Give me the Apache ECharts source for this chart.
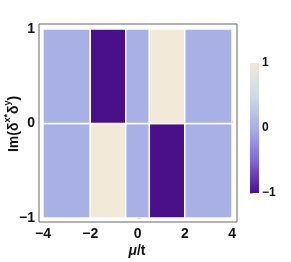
<!DOCTYPE html>
<html>
<head>
<meta charset="utf-8">
<script src="https://cdn.jsdelivr.net/npm/echarts@6/dist/echarts.min.js"></script>
<style>html,body{margin:0;padding:0;background:#fff;}#c{width:291px;height:262px;}</style>
</head>
<body>
<div id="c"></div>
<script>
// Data
var xEdges = [-4, -2, -0.5, 0.5, 2, 4];
var yEdges = [-1, 0, 1];
var rowBottom = [0, 1, 0, -1, 0];   // y in [-1, 0]
var rowTop = [0, -1, 0, 1, 0];      // y in [0, 1]
var xTicks = [-4, -2, 0, 2, 4];
var yTicks = [-1, 0, 1];
var barTicks = [-1, -0.5, 0, 0.5, 1];
var barLabels = [-1, 0, 1];
var colorStops = [
  [0.00, '#4a1089'],
  [0.25, '#7f6ad2'],
  [0.50, '#a9b0e6'],
  [0.75, '#cbdbe8'],
  [1.00, '#f2e9d8']
];

var rows = [rowBottom, rowTop];
var cells = [];
for (var r = 0; r < rows.length; r++) {
  for (var i = 0; i < rows[r].length; i++) {
    cells.push([xEdges[i], xEdges[i + 1], yEdges[r], yEdges[r + 1], rows[r][i]]);
  }
}

function fmt(v) { return v < 0 ? '\u2212' + Math.abs(v) : String(v); }

var font = '"Liberation Sans", Arial, sans-serif';
var chart = echarts.init(document.getElementById('c'));
chart.setOption({
  animation: false,
  backgroundColor: '#fff',
  grid: [
    { left: 39, right: 54, top: 24, bottom: 40, show: true, borderColor: '#666666', borderWidth: 1, backgroundColor: '#fff' },
    { left: 250, width: 9, top: 63, height: 130, show: false }
  ],
  xAxis: [
    { type: 'value', gridIndex: 0, min: -4.17, max: 4.21,
      axisLine: { show: false }, splitLine: { show: false },
      axisTick: { show: true, inside: true, length: 3, lineStyle: { color: '#666666' }, customValues: xTicks },
      axisLabel: { customValues: xTicks, formatter: fmt, color: '#111', fontWeight: 'bold', fontSize: 14, fontFamily: font, margin: 5 } },
    { type: 'value', gridIndex: 1, min: 0, max: 1, show: false }
  ],
  yAxis: [
    { type: 'value', gridIndex: 0, min: -1.042, max: 1.053,
      axisLine: { show: false }, splitLine: { show: false },
      axisTick: { show: true, inside: true, length: 3, lineStyle: { color: '#666666' }, customValues: yTicks },
      axisLabel: { customValues: yTicks, formatter: fmt, color: '#111', fontWeight: 'bold', fontSize: 14, fontFamily: font, margin: 4 } },
    { type: 'value', gridIndex: 1, min: -1, max: 1, interval: 0.5, position: 'right',
      axisLine: { show: false }, splitLine: { show: false },
      axisTick: { show: true, length: 3, lineStyle: { color: '#aaaaaa' }, customValues: barTicks },
      axisLabel: { customValues: barLabels, formatter: fmt, color: '#111', fontWeight: 'bold', fontSize: 12, fontFamily: font, margin: 3 } }
  ],
  visualMap: {
    show: false, type: 'continuous', min: -1, max: 1, dimension: 4, seriesIndex: 0,
    inRange: { color: colorStops.map(function (s) { return s[1]; }) }
  },
  series: [
    { type: 'custom', xAxisIndex: 0, yAxisIndex: 0, data: cells,
      encode: { x: [0, 1], y: [2, 3] },
      renderItem: function (params, api) {
        var p0 = api.coord([api.value(0), api.value(3)]);
        var p1 = api.coord([api.value(1), api.value(2)]);
        return { type: 'rect', shape: { x: p0[0], y: p0[1], width: p1[0] - p0[0], height: p1[1] - p0[1] },
          style: { fill: api.visual('color'), stroke: '#ffffff', lineWidth: 1.4 } };
      } },
    { type: 'custom', xAxisIndex: 1, yAxisIndex: 1, data: [[0, 1, -1, 1]],
      renderItem: function (params, api) {
        var p0 = api.coord([api.value(0), api.value(3)]);
        var p1 = api.coord([api.value(1), api.value(2)]);
        return { type: 'rect', shape: { x: p0[0], y: p0[1], width: p1[0] - p0[0], height: p1[1] - p0[1] },
          style: { fill: new echarts.graphic.LinearGradient(0, 1, 0, 0,
            colorStops.map(function (s) { return { offset: s[0], color: s[1] }; })) } };
      } }
  ],
  graphic: [
    { type: 'text', x: 137, y: 251,
      style: { text: '{i|\u03bc}{n|/t}', align: 'center', verticalAlign: 'middle',
        rich: { i: { fontStyle: 'italic', fontWeight: 'bold', fontSize: 14, fontFamily: font, fill: '#111' },
                n: { fontWeight: 'bold', fontSize: 14, fontFamily: font, fill: '#111' } } } },
    { type: 'text', x: 12, y: 124, rotation: Math.PI / 2,
      style: { text: '{n|Im(\u03b4}{s|x*}{n|\u03b4}{s|y}{n|)}', align: 'center', verticalAlign: 'middle',
        rich: { n: { fontWeight: 'bold', fontSize: 14, fontFamily: font, fill: '#111', lineHeight: 18, verticalAlign: 'bottom' },
                s: { fontWeight: 'bold', fontSize: 9, fontFamily: font, fill: '#111', lineHeight: 18, verticalAlign: 'top', padding: [0, 0, 0, 0] } } } }
  ]
});
</script>
</body>
</html>
